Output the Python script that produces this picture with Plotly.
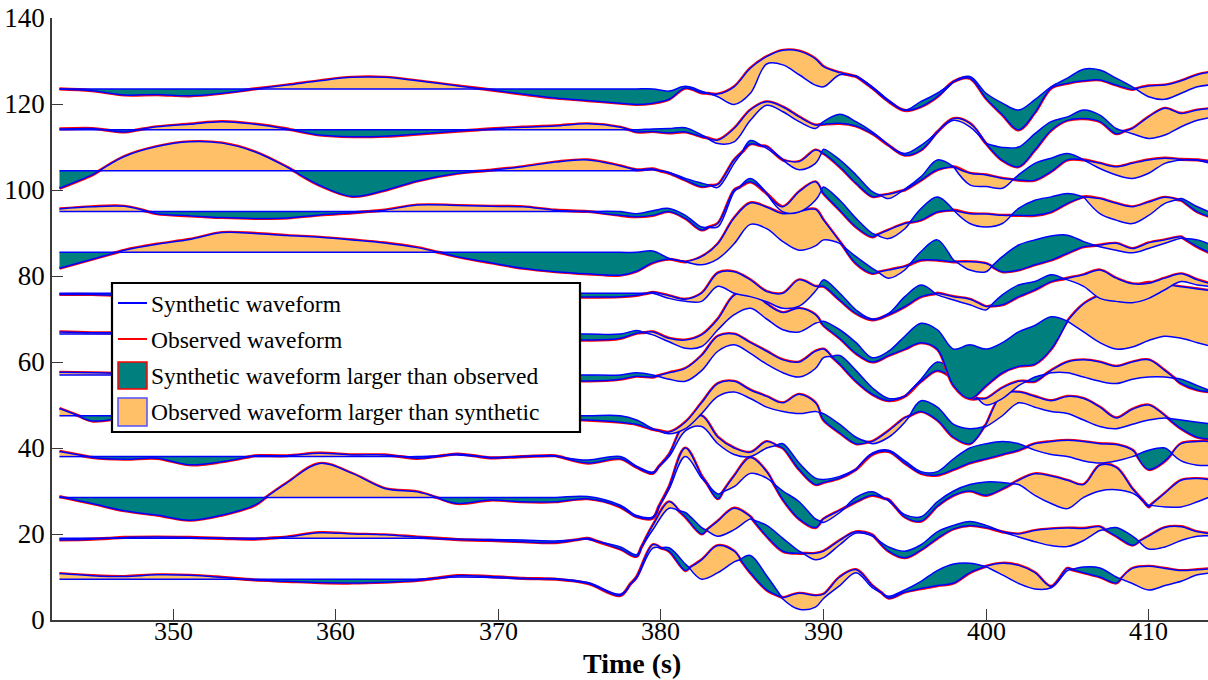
import numpy as np
import plotly.graph_objects as go

# ---------------- data ----------------
T_EARLY = [343, 345, 347, 349, 351, 353, 355, 357, 359, 361, 363, 365]
T_MID = [367.5, 369.5, 371.5, 373.5, 375.5, 377.5]
T_ARRIVAL = [378.5, 379.5, 380.5, 381.5, 382.5, 383.5, 384.5, 385.5, 386.5, 387.5, 388.5, 389.5]
T_LATE = list(range(390, 415))
TIME = np.array(T_EARLY + T_MID + T_ARRIVAL + T_LATE, dtype=float)

BASELINES = [9.5, 19.0, 28.5, 38.0, 47.5, 57.0, 66.5, 76.0, 85.5, 95.0, 104.5, 114.0, 123.5]

Z12 = [0.0] * 12
Z18 = [0.0] * 18

OBS_1 = [1.3, 0.8, 0.6, 1.0, 0.9, 0.4, -0.2, -0.5, -0.8, -0.9, -0.7, -0.3] + \
        [0.8, 0.6, 0.2, 0.0, -1.0, -3.8] + \
        [0.5, 8.0, 6.5, 2.0, 4.5, 7.8, 6.5, 1.5, -2.5, -4.3, -3.3, -3.8] + \
        [-3.5, 0.5, 2.2, -1.5, -4.4, -3.0, -2.2, -1.5, -0.9, 1.5, 3.0, 3.7, 3.2, 1.5, -1.7, 2.5, 1.5, 0.5, -0.9, 2.5,
         3.0, 2.5, 2.0, 2.2, 2.5]
SYN_1 = Z12 + [0.5, 0.4, 0.1, 0.1, -0.8, -3.5] + \
        [0.3, 7.2, 7.3, 3.5, 0.0, 1.5, 4.0, 5.5, 0.8, -4.6, -7.0, -6.5] + \
        [-4.5, -1.5, 1.5, -2.0, -4.0, -2.5, -0.5, 2.0, 3.5, 3.7, 2.9, 1.0, -1.0, -2.3, -2.0, 2.0, 2.8, 2.6, 0.5, -1.0,
         -2.5, -1.5, -0.5, 1.0, 1.5]

OBS_2 = [-0.4, -0.2, 0.2, 0.3, 0.2, 0, -0.2, 0.3, 1.3, 1.0, 0.8, 0.3] + \
        [-0.3, -0.5, -0.8, -1.0, 0, -2.5] + \
        [-4.2, 3.0, 8.5, 5.0, 1.0, 4.0, 7.0, 5.0, 0.5, -3.0, -3.5, -3.5] + \
        [-3.0, -0.5, 1.5, 0.8, -3.0, -4.5, -2.7, 0, 2.2, 3.0, 2.5, 1.5, 1.0, 1.8, 2.2, 2.4, 2.3, 2.7, 0.5, -1.6,
         0.5, 2.5, 2.7, 1.5, 1.0]
SYN_2 = Z12 + [-0.2, -0.3, -0.4, -0.6, -0.2, -2.0] + \
        [-3.8, 2.0, 7.0, 6.0, 2.5, 0.5, 2.0, 4.5, 3.0, 0, -3.0, -5.0] + \
        [-4.5, -1.5, 1.2, 0.5, -2.0, -3.0, -1.5, 1.5, 3.0, 3.9, 3.0, 1.5, 0.3, -0.8, -1.7, -1.9, -0.5, 1.8, 2.5, 0.5,
         -2.5, -2.0, -0.5, 0.5, 0.5]

OBS_3 = [0.2, -1.4, -3.1, -4.1, -5.3, -4.1, -1.8, 3.4, 7.9, 5.6, 2.1, 1.3] + \
        [-1.4, -0.6, -1.0, -1.0, -0.3, -2.2] + \
        [-4.5, -4.8, 2.5, 11.5, 5.0, -0.3, 5.0, 9.3, 6.0, -0.5, -5.0, -7.0] + \
        [-5.0, -3.0, -1.0, 0.5, -0.5, -4.5, -5.5, -2.0, 0.5, 1.5, 0.5, 2.0, 4.0, 5.5, 5.0, 4.0, 3.0, 7.5, 7.0, 2.0,
         -2.2, 1.0, 4.0, 4.4, 4.0]
SYN_3 = Z12 + [0, 0, 0, 0, 0.2, -1.8] + \
        [-4.2, -4.5, 2.0, 9.5, 4.5, 0.8, 2.5, 5.6, 4.5, 1.5, -1.0, -5.0] + \
        [-5.8, -3.5, 0, 1.3, -0.8, -4.0, -4.5, -1.0, 1.5, 3.0, 3.6, 3.5, 3.0, 0.5, -1.4, -2.6, 0, 1.5, 1.8, 1.0,
         -1.8, -2.2, -2.2, -1.0, 0.5]

OBS_4 = [1.2, -0.2, -0.6, -0.4, -1.9, -1.2, 0.2, 0.2, 0.8, 0.4, 0.4, -0.4] + \
        [0.6, -0.3, 0, 0.2, -1.5, -0.5] + \
        [-2.5, -3.9, 0.5, 8.0, 9.5, 4.5, 2.0, 1.0, 3.5, 2.0, -3.0, -6.5] + \
        [-6.0, -5.0, -3.0, 0.5, 1.2, -1.5, -3.9, -4.3, -3.0, -1.5, -0.5, 0.5, 1.5, 3.0, 3.5, 3.8, 3.5, 3.0, 2.8, 1.5,
         -3.0, -1.0, 3.0, 3.5, 3.5]
SYN_4 = Z12 + [0.4, -0.2, 0, 0.1, -0.8, 0.0] + \
        [-2.2, -3.6, 0, 6.0, 7.0, 3.0, 0.5, 0, 2.0, 3.0, -1.5, -5.0] + \
        [-5.3, -4.6, -3.0, 0.8, 1.5, -1.0, -3.5, -3.5, -0.5, 2.0, 3.0, 3.5, 3.0, 1.5, 0.5, 0, -1.0, -1.5, -1.0, 0,
         1.5, 2.0, -1.0, -2.0, -2.0]

OBS_5 = [1.7, -1.2, -0.5, 0, 0.3, 0.2, 0, -0.2, -0.3, -0.2, 0, 0.2, 0, -0.3, -0.6, -0.8, -1.0, -1.5] + \
        [-2.0, -3.2, -3.8, -1.5, 3.0, 7.5, 8.0, 6.0, 4.5, 3.0, 5.0, 3.0, -1.0, -4.0, -6.5, -6.0, -3.5, -0.5, 1.0, -1.0,
         -5.0, -6.5, -2.0, 5.0, 5.5, 4.5, 3.5, 4.5, 4.0, 2.0, -0.5, 1.5, 2.5, 0, -3.0, -5.0, -5.5]
SYN_5 = Z18 + \
        [-1.0, -3.0, -4.2, -3.0, 0.5, 4.5, 5.5, 4.0, 2.0, 1.0, 0.5, 1.0, 0.5, -2.0, -5.0, -6.5, -5.0, -1.5, 3.5, 2.0,
         -2.0, -3.0, -2.5, 0, 3.0, 2.0, 1.0, 0.5, -1.0, -2.5, -3.0, -2.0, -1.0, -0.5, -1.0, -1.5, -2.0]

OBS_6 = [0.6, 0.5, 0.3, 0, -0.2, -0.3, -0.3, -0.2, 0, 0.1, 0, -0.3, -0.6, -0.8, -1.0, -1.2, -1.4, -1.0] + \
        [-0.3, -0.5, 0.5, 1.5, 4.5, 9.0, 9.5, 7.5, 5.5, 3.5, 3.0, 5.5, 6.0, 2.5, -1.5, -4.5, -6.0, -5.0, -1.5, 1.0,
         -1.0, -5.5, -5.5, -3.0, -1.5, -1.5, 1.0, 3.0, 3.5, 3.0, 2.0, 3.0, 3.5, 1.0, -2.0, -3.5, -4.0]
SYN_6 = Z18 + \
        [0.5, 0, -1.0, -1.5, 1.0, 5.5, 7.0, 5.0, 2.5, 0.5, -0.5, 1.5, 4.0, 4.5, 1.0, -3.0, -5.5, -5.0, -1.0, 3.0,
         1.0, -4.0, -7.0, -5.5, -2.5, -0.5, 0.5, 0.5, -0.5, -1.5, -2.0, -1.0, -0.5, -0.5, -1.0, -2.5, -4.0]

OBS_7 = [0.5, 0.3, 0.3, 0.2, 0, -0.2, -0.4, -0.5, -0.3, 0, 0.2, 0, -0.5, -0.8, -1.0, -1.2, -1.4, -1.0] + \
        [0.2, 0.5, -1.0, -1.4, -0.2, 3.5, 9.0, 10.0, 7.0, 5.0, 6.0, 4.5, 2.0, -1.0, -4.5, -6.5, -5.0, -3.5, -2.0, -3.5,
         -12.0, -15.0, -12.0, -9.0, -7.5, -7.0, -3.5, 3.0, 7.0, 9.0, 10.0, 11.0, 12.0, 11.5, 11.0, 10.5, 10.0]
SYN_7 = Z18 + \
        [0.8, -0.2, -1.8, -3.3, -2.9, 1.0, 4.5, 6.0, 3.5, 1.0, 0.5, 2.5, 3.0, 1.0, -2.0, -5.5, -4.0, -0.5, 2.5, 1.0,
         -3.5, -2.5, -3.5, -2.0, 0.5, 2.0, 4.0, 3.0, 0.5, -2.0, -3.5, -3.0, -1.5, -0.5, -1.0, -2.0, -3.0]

OBS_8 = [-0.3, -0.3, -0.5, -0.3, 0, 0.2, 0, -0.3, -0.5, -0.5, -0.3, -0.2, 0, -0.3, -0.6, -0.8, -0.9, -0.8] + \
        [-0.5, 0.2, -0.6, -1.4, 0, 4.7, 5.0, 3.1, 0.4, 0, 3.1, 1.6, 1.6, -1.6, -4.7, -6.2, -5.0, -3.1, -0.8, 0,
         -0.8, -1.4, -3.1, -2.7, -0.8, 0.8, 2.7, 3.5, 4.3, 5.4, 3.5, 2.2, 2.3, 3.5, 4.5, 3.1, 2.0]
SYN_8 = Z18 + \
        [0, 0, -1.2, -1.9, -1.9, 1.6, 0, -0.8, -2.0, -3.5, -3.0, 0.5, 3.1, 0, -3.9, -6.0, -4.7, -0.8, 1.9, -0.4,
         -1.6, -2.7, -3.9, -0.4, 1.9, 2.7, 4.3, 3.1, 1.6, -1.2, -1.9, -2.2, -1.2, 0.8, 2.7, 1.9, 1.5]

OBS_9 = [-3.7, -1.6, 0.5, 1.9, 3.0, 4.6, 4.4, 3.9, 3.5, 2.9, 2.2, 1.1, -1.0, -2.4, -3.7, -4.5, -5.0, -5.3] + \
        [-4.4, -2.4, -1.6, -2.2, -1.0, 2.0, 8.0, 11.5, 10.5, 9.0, 9.5, 10.0, 7.5, 2.5, -2.6, -4.9, -4.1, -3.3, -1.8, -1.8,
         -2.2, -2.2, -2.6, -4.5, -4.1, -2.9, -1.8, -0.2, 1.3, 1.7, 2.1, 0.9, 2.2, 2.9, 3.6, 1.3, -0.5]
SYN_9 = Z18 + \
        [0, 0.3, -1.4, -2.2, -2.9, -1.5, 2.0, 6.5, 5.5, 2.5, 0.5, 1.5, 2.9, 2.1, -1.0, -3.7, -6.0, -4.1, 0.2, 2.9,
         -1.8, -4.1, -4.5, -1.0, 1.7, 2.9, 3.8, 4.0, 2.5, 1.3, 0.5, -0.1, 0.9, 2.1, 3.3, 2.9, 1.5]

OBS_10 = [0.6, 1.1, 1.2, -0.5, -1.0, -1.4, -1.6, -1.5, -0.8, -0.3, 0.3, 1.5, 1.4, 1.2, 1.1, 0.3, 0, -0.9] + \
         [-1.2, -0.9, 0, -1.6, -4.3, -2.8, 5.0, 6.9, 4.2, 1.1, 4.6, 6.9, 4.2, 0.3, -3.6, -5.9, -4.3, -2.8, -2.0, -0.1,
          0.3, -0.5, -0.6, -0.9, -0.9, -0.9, -0.1, 1.9, 3.4, 3.0, 1.9, 1.1, 2.2, 3.3, 2.6, -0.1, -1.5]
SYN_10 = Z18 + \
         [-0.5, 0.2, 0.7, -0.9, -3.6, -3.6, 4.6, 7.7, 4.2, -0.1, -0.1, 2.6, 5.7, 2.6, -1.6, -5.1, -6.3, -4.0, 0.7, 3.4,
          0.3, -2.8, -3.6, -2.8, 0.7, 2.6, 3.4, 4.2, 3.4, -0.5, -2.0, -2.8, -0.9, 1.9, 3.0, 1.1, -0.5]

OBS_11 = [-4.1, -1.0, 3.3, 5.6, 6.7, 6.4, 4.4, 0.8, -3.4, -6.0, -4.6, -2.4, -0.6, 0.1, 0.9, 2.0, 2.5, 1.1] + \
         [0.2, 0.4, -0.6, -2.2, -3.7, -3.2, 2.5, 6.2, 5.6, 2.5, 2.1, 4.8, 4.0, 0.9, -2.9, -6.0, -5.5, -4.5, -2.2, 0.2,
          0.9, -0.6, -1.0, -1.8, -2.2, -2.2, -0.2, 2.5, 2.5, 1.7, 0.9, 1.7, 2.5, 2.9, 2.6, 2.5, 2.0]
SYN_11 = Z18 + \
         [0, 0.2, -0.4, -1.8, -2.9, -3.9, 1.7, 7.0, 5.2, 2.5, 0.2, 1.7, 5.0, 2.5, -1.0, -4.9, -6.5, -4.3, -1.4, 2.5,
          0.9, -3.3, -3.7, -4.1, -1.0, 1.7, 2.9, 4.0, 2.5, 0.5, -1.0, -1.8, -0.6, 1.7, 2.5, 2.5, 1.5]

OBS_12 = [0.2, 0.3, -0.5, 0.7, 1.3, 1.9, 1.3, 0.2, -1.2, -1.6, -1.5, -1.0, -0.3, 0.2, 0.6, 0.9, 1.4, 0.6] + \
         [-0.5, -0.4, -0.7, -0.5, -1.6, -2.4, 0.3, 4.6, 6.5, 5.3, 3.0, 1.1, 1.3, 1.5, 0.9, -0.9, -3.6, -5.9, -4.7, -0.5,
          2.6, 1.5, -3.2, -7.1, -8.6, -4.7, -0.1, 2.2, 2.6, 1.9, -0.9, 0.3, 3.0, 5.0, 3.8, 4.6, 5.0]
SYN_12 = Z18 + \
         [0, 0.2, 0.3, 0.5, -1.2, -3.2, -2.8, 2.2, 5.7, 4.2, 1.9, 0.3, 1.9, 3.6, 1.9, -0.5, -3.6, -5.5, -3.6, -0.5,
          2.2, 0.7, -3.2, -4.1, -4.0, -0.9, 1.9, 3.0, 4.6, 3.4, 0.3, -0.9, -2.0, -1.2, 0.7, 2.2, 3.0]

OBS_13 = [0, -0.4, -1.4, -1.3, -1.6, -1.0, 0, 0.9, 1.9, 2.7, 2.7, 1.9, 0.7, -0.2, -1.2, -2.1, -2.7, -3.3] + \
         [-3.6, -3.3, -2.4, 0.2, -0.9, -1.2, 0.5, 4.8, 7.5, 9.0, 8.8, 7.0, 5.2, 3.8, 2.9, 0.2, -2.9, -5.0, -4.1, -1.8,
          1.7, 2.5, -2.2, -6.0, -9.5, -5.5, 0.2, 1.3, 1.9, 2.1, 0.9, -0.1, 0.7, 0.9, 1.9, 3.3, 4.0]
SYN_13 = Z18 + \
         [0, 0, -0.5, 0.6, -0.5, -1.8, -3.6, -1.0, 5.8, 5.6, 3.3, 0.9, 0.5, 3.3, 3.0, 0.5, -2.6, -4.9, -2.9, -1.0,
          1.7, 2.9, -1.0, -3.3, -4.9, -2.5, 0.5, 2.5, 4.6, 4.4, 2.5, 0.5, -1.8, -2.4, -1.0, 0.5, 1.0]

OBSERVED = [OBS_1, OBS_2, OBS_3, OBS_4, OBS_5, OBS_6, OBS_7, OBS_8, OBS_9, OBS_10, OBS_11, OBS_12, OBS_13]
SYNTHETIC = [SYN_1, SYN_2, SYN_3, SYN_4, SYN_5, SYN_6, SYN_7, SYN_8, SYN_9, SYN_10, SYN_11, SYN_12, SYN_13]

X_TICKS = [350, 360, 370, 380, 390, 400, 410]
Y_TICKS = [0, 20, 40, 60, 80, 100, 120, 140]
X_TITLE = "Time (s)"
LEGEND_LABELS = ["Synthetic waveform", "Observed waveform",
                 "Synthetic waveform larger than observed", "Observed waveform larger than synthetic"]

# ---------------- style ----------------
TEAL = "#007f7f"
ORANGE = "#ffc068"
BLUE = "#0000ff"
RED = "#ff0000"
FONT = "Liberation Serif, Times New Roman, serif"
AXIS_COLOR = "#3a3a3a"
X_MIN, X_MAX = 342.54, 413.65


def split_segments(t, obs, syn):
    """Split the pair of curves where they cross, so each piece has one fill colour."""
    d = syn - obs
    segs = []
    ct, co, cs = [t[0]], [obs[0]], [syn[0]]
    n = len(t)
    for i in range(n - 1):
        d0, d1 = d[i], d[i + 1]
        if d0 * d1 < 0:
            f = d0 / (d0 - d1)
            tc = t[i] + f * (t[i + 1] - t[i])
            yc = obs[i] + f * (obs[i + 1] - obs[i])
            ct.append(tc); co.append(yc); cs.append(yc)
            segs.append((ct, co, cs))
            ct, co, cs = [tc], [yc], [yc]
        ct.append(t[i + 1]); co.append(obs[i + 1]); cs.append(syn[i + 1])
        if d1 == 0 and i + 1 < n - 1 and len(ct) > 1:
            segs.append((ct, co, cs))
            ct, co, cs = [t[i + 1]], [obs[i + 1]], [syn[i + 1]]
    if len(ct) > 1:
        segs.append((ct, co, cs))
    return segs


fig = go.Figure()

for base, o_rel, s_rel in zip(BASELINES, OBSERVED, SYNTHETIC):
    o_rel = np.array(o_rel, dtype=float)
    s_rel = np.array(s_rel, dtype=float)
    segs = split_segments(TIME, o_rel, s_rel)
    full_t, full_o = [], []
    for k, (st, so, ss) in enumerate(segs):
        if k == 0:
            full_t += list(st); full_o += list(so)
        else:
            full_t += list(st[1:]); full_o += list(so[1:])
    fig.add_trace(go.Scatter(x=full_t, y=base + np.array(full_o), mode="lines",
                             line=dict(color=RED, width=3.2, shape="spline"),
                             showlegend=False, hoverinfo="skip"))
    for st, so, ss in segs:
        so = np.array(so); ss = np.array(ss)
        diff = ss - so
        color = TEAL if diff.sum() > 0 else ORANGE
        fig.add_trace(go.Scatter(x=st, y=base + so, mode="lines",
                                 line=dict(color=BLUE, width=1.5, shape="spline"),
                                 showlegend=False, hoverinfo="skip"))
        fig.add_trace(go.Scatter(x=st, y=base + ss, mode="lines",
                                 fill="tonexty" if np.abs(diff).max() > 1e-9 else "none",
                                 fillcolor=color,
                                 line=dict(color=BLUE, width=1.5, shape="spline"),
                                 showlegend=False, hoverinfo="skip"))

# ---------------- pixel -> paper helpers ----------------
L, R, T, B = 52, 1208, 18, 620
def px(xp): return (xp - L) / (R - L)
def py(yp): return (B - yp) / (B - T)

# manual legend
shapes = [dict(type="rect", xref="paper", yref="paper", x0=px(112), x1=px(580), y0=py(432), y1=py(283),
               line=dict(color="black", width=2.2), fillcolor="white", layer="above")]
shapes.append(dict(type="line", xref="paper", yref="paper", x0=px(118), x1=px(147), y0=py(303), y1=py(303),
                   line=dict(color=BLUE, width=2), layer="above"))
shapes.append(dict(type="line", xref="paper", yref="paper", x0=px(118), x1=px(147), y0=py(339), y1=py(339),
                   line=dict(color=RED, width=2), layer="above"))
shapes.append(dict(type="rect", xref="paper", yref="paper", x0=px(118), x1=px(147), y0=py(389), y1=py(362),
                   line=dict(color=RED, width=1.5), fillcolor=TEAL, layer="above"))
shapes.append(dict(type="rect", xref="paper", yref="paper", x0=px(118), x1=px(147), y0=py(426), y1=py(398),
                   line=dict(color="#5050ff", width=1.5), fillcolor=ORANGE, layer="above"))
annotations = []
for label, ypix in zip(LEGEND_LABELS, [304, 340, 376, 412]):
    annotations.append(dict(text=label, xref="paper", yref="paper", x=px(149), y=py(ypix),
                            xanchor="left", yanchor="middle", showarrow=False,
                            font=dict(family=FONT, size=23.5, color="black")))

# x tick labels and title placed close to the axis, as in the reference
for tv in X_TICKS:
    annotations.append(dict(text=str(tv), xref="x", yref="paper", x=tv, y=py(631),
                            xanchor="center", yanchor="middle", showarrow=False, borderpad=0,
                            font=dict(family=FONT, size=26, color="black")))
annotations.append(dict(text="<b>" + X_TITLE + "</b>", xref="paper", yref="paper", x=px(632), y=py(663.5),
                        xanchor="center", yanchor="middle", showarrow=False, borderpad=0,
                        font=dict(family=FONT, size=28, color="black")))

fig.update_layout(
    width=1208, height=680,
    margin=dict(l=L, r=0, t=T, b=680 - B),
    plot_bgcolor="white", paper_bgcolor="white",
    font=dict(family=FONT, color="black"),
    showlegend=False, hovermode=False,
    shapes=shapes, annotations=annotations,
)
fig.update_xaxes(range=[X_MIN, X_MAX], tickvals=X_TICKS, showticklabels=False, ticks="inside", ticklen=11,
                 tickwidth=1, tickcolor=AXIS_COLOR, showline=True, linecolor=AXIS_COLOR, linewidth=1.5,
                 showgrid=False, zeroline=False)
fig.update_yaxes(range=[0, 140], tickvals=Y_TICKS, ticks="inside", ticklen=11, tickwidth=1,
                 tickcolor=AXIS_COLOR, showline=True, linecolor=AXIS_COLOR, linewidth=1.5,
                 showgrid=False, zeroline=False, tickfont=dict(family=FONT, size=27, color="black"))

fig.write_html("out.html", config={"displayModeBar": False},
               post_script="document.body.style.margin='0';")
